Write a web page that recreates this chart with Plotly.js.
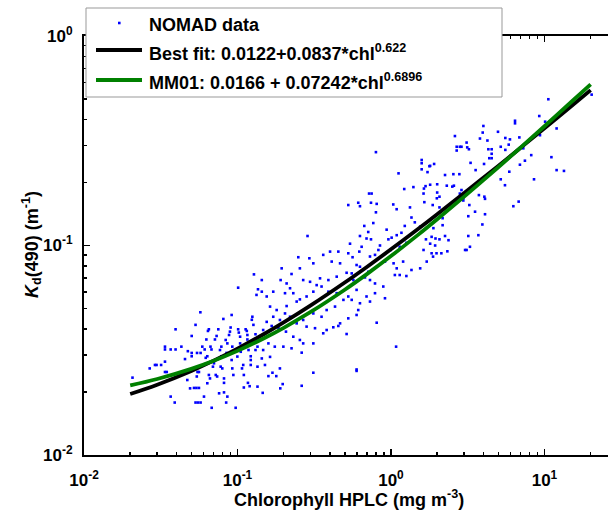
<!DOCTYPE html>
<html><head><meta charset="utf-8">
<script src="https://cdn.plot.ly/plotly-3.0.1.min.js"></script>
<style>html,body{margin:0;padding:0;background:#fff}#chart{width:608px;height:513px}</style>
</head><body><div id="chart"></div>
<script>
// NOMAD data (chlorophyll HPLC, Kd490)
const chl = [
0.0207,0.0268,0.0290,0.0297,0.0318,0.0337,0.0337,0.0337,0.0346,0.0337,0.0367,0.0367,0.0390,0.0395,0.0395,0.0431,0.0455,0.0471,0.0475,0.0491,
0.0503,0.0503,0.0503,0.0521,0.0540,0.0561,0.0533,0.0533,0.0553,0.0575,0.0545,0.0575,0.0549,0.0561,0.0543,0.0573,0.0590,0.0611,0.0627,0.0605,
0.0621,0.0636,0.0642,0.0651,0.0636,0.0651,0.0662,0.0667,0.0677,0.0679,0.0692,0.0703,0.0713,0.0731,0.0722,0.0737,0.0750,0.0759,0.0769,0.0785,
0.0785,0.0777,0.0796,0.0809,0.0817,0.0817,0.0817,0.0838,0.0859,0.0849,0.0844,0.0859,0.0881,0.0902,0.0893,0.0916,0.0925,0.0916,0.0925,0.0940,
0.0973,0.0973,0.0998,0.101,0.101,0.102,0.104,0.104,0.106,0.105,0.107,0.109,0.110,0.110,0.113,0.115,0.116,0.116,0.117,0.118,
0.117,0.120,0.122,0.122,0.122,0.124,0.125,0.127,0.128,0.131,0.133,0.135,0.133,0.136,0.131,0.135,0.135,
0.527,0.612,0.628,0.741,0.807,0.798,1.035,1.089,1.33,1.65,
0.798,1.585,1.585,1.585,1.78,1.73,1.12,1.22,1.40,1.64,1.68,1.63,0.720,0.748,
0.286,0.670,0.711,0.767,0.693,0.741,0.628,0.644,0.622,0.541,0.527,0.562,0.937,0.962,1.01,1.09,1.17,1.23,1.36,1.43,
1.26,1.14,0.996,0.848,0.828,0.787,0.730,1.04,1.09,1.06,1.20,1.36,1.55,1.71,1.63,1.69,1.55,1.26,0.914,0.787,
0.677,0.711,0.628,0.693,0.597,0.569,0.555,0.612,0.514,0.527,0.597,0.807,0.914,0.730,0.787,0.891,1.08,0.514,0.597,0.381,
0.421,0.466,0.454,
0.249,0.294,0.312,0.362,0.401,0.454,0.411,0.466,0.443,0.391,0.345,0.328,0.297,0.268,0.255,0.225,0.194,0.191,0.209,0.220,
0.231,0.204,0.171,0.155,0.144,0.144,0.163,0.180,0.209,0.243,0.255,0.282,0.312,0.353,0.391,0.443,0.490,0.432,0.381,0.353,
0.312,0.268,0.243,0.220,0.204,0.189,0.171,0.155,0.147,0.167,0.185,0.207,0.231,0.255,0.282,0.320,0.362,0.268,0.312,0.225,
0.199,0.175,0.159,0.147,0.163,0.144,0.151,0.189,0.262,1.14,0.730,0.597,0.555,0.527,0.628,
10.6,9.25,10.1,12.0,9.35,20.3,6.43,6.43,6.86,7.28,8.20,7.46,6.92,11.1,12.0,13.4,8.55,6.79,6.27,4.98,
5.56,5.96,5.19,5.56,5.85,4.00,3.96,3.80,4.25,4.31,4.53,4.53,4.37,4.53,4.04,5.90,5.19,5.53,2.61,3.11,
3.14,3.22,2.68,2.68,2.81,2.88,3.30,3.56,1.91,1.80,2.25,2.55,2.79,2.00,2.31,2.51,2.57,1.80,2.00,1.99,
2.07,2.88,2.96,2.96,2.81,3.74,4.06,4.10,3.24,3.53,3.19,4.10,3.94,1.87,2.07,2.17,2.17,1.89,2.25,2.37,
2.07,1.95,1.84,3.19,3.71,3.27,3.04,3.11,1.80,1.94,1.84,1.98,2.13,2.33,1.88,
0.169,0.159,0.179,0.197,0.190,0.146,0.262,0.312,0.597
];
const kd = [
0.0234,0.0259,0.0269,0.0269,0.0269,0.0329,0.0319,0.0249,0.0249,0.0279,0.0319,0.0190,0.0178,0.0398,0.0319,0.0329,0.0287,0.0228,0.0313,0.0208,
0.0370,0.0307,0.0296,0.0209,0.0209,0.0209,0.0418,0.0178,0.0178,0.0178,0.0307,0.0307,0.0249,0.0249,0.0237,0.0480,0.0329,0.0319,0.0356,0.0190,
0.0291,0.0296,0.0391,0.0398,0.0220,0.0241,0.0232,0.0329,0.0319,0.0168,0.0264,0.0274,0.0356,0.0370,0.0241,0.0237,0.0398,0.0197,0.0317,0.0329,
0.0296,0.0264,0.0259,0.0446,0.0232,0.0221,0.0199,0.0354,0.0341,0.0307,0.0178,0.0190,0.0374,0.0406,0.0388,0.0466,0.0329,0.0284,0.0259,0.0241,
0.0168,0.0317,0.0295,0.0629,0.0398,0.0384,0.0367,0.0341,0.0323,0.0311,0.0259,0.0269,0.0241,0.0210,0.0398,0.0391,0.0374,0.0356,0.0341,0.0317,
0.0221,0.0213,0.0284,0.0296,0.0269,0.0442,0.0457,0.0418,0.0728,0.0377,0.0354,0.0329,0.0581,0.0618,0.0317,0.0212,0.0264,
0.156,0.160,0.154,0.160,0.158,0.144,0.157,0.149,0.152,0.161,
0.279,0.256,0.247,0.231,0.239,0.224,0.221,0.186,0.190,0.187,0.192,0.177,0.177,0.177,
0.111,0.124,0.116,0.128,0.108,0.107,0.111,0.0986,0.0935,0.102,0.0918,0.0879,0.119,0.107,0.109,0.112,0.115,0.124,0.136,0.129,
0.103,0.0986,0.0952,0.100,0.0952,0.0902,0.0886,0.0822,0.0778,0.0723,0.0838,0.0764,0.0778,0.0838,0.0952,0.107,0.123,0.0715,0.0838,0.0659,
0.0704,0.0749,0.0792,0.0571,0.0614,0.0684,0.0550,0.0492,0.0741,0.0449,0.0466,0.0428,0.0560,0.0540,0.0592,0.0637,0.0329,0.0378,0.0256,0.0395,
0.0407,0.0425,0.0413,
0.0879,0.0869,0.0822,0.0902,0.0935,0.0935,0.0838,0.0822,0.0710,0.0684,0.0697,0.0647,0.0671,0.0684,0.0778,0.0731,0.0778,0.0684,0.0659,0.0625,
0.0592,0.0592,0.0602,0.0571,0.0602,0.0684,0.0511,0.0492,0.0514,0.0540,0.0553,0.0571,0.0602,0.0637,0.0602,0.0592,0.0550,0.0511,0.0492,0.0457,
0.0474,0.0441,0.0425,0.0457,0.0474,0.0441,0.0457,0.0432,0.0395,0.0413,0.0403,0.0388,0.0367,0.0354,0.0410,0.0403,0.0381,0.0341,0.0341,0.0323,
0.0329,0.0329,0.0341,0.0317,0.0294,0.0289,0.0269,0.0259,0.0308,0.0723,0.0684,0.0807,0.0736,0.0571,0.0530,
0.499,0.415,0.390,0.362,0.336,0.525,0.394,0.383,0.328,0.291,0.270,0.254,0.243,0.264,0.229,0.227,0.207,0.162,0.154,0.349,
0.326,0.321,0.296,0.286,0.303,0.372,0.346,0.324,0.317,0.288,0.288,0.274,0.261,0.261,0.245,0.225,0.207,0.194,0.333,0.310,
0.294,0.288,0.296,0.284,0.296,0.296,0.248,0.229,0.245,0.240,0.217,0.219,0.219,0.196,0.193,0.191,0.193,0.195,0.179,0.168,
0.171,0.184,0.168,0.164,0.177,0.174,0.171,0.167,0.156,0.145,0.138,0.141,0.126,0.156,0.152,0.135,0.125,0.121,0.111,0.106,
0.107,0.108,0.110,0.111,0.112,0.0986,0.0952,0.0952,0.102,0.100,0.0918,0.0918,0.0918,0.0938,0.0885,
0.0247,0.0238,0.0238,0.0218,0.0208,0.0198,0.0214,0.0247,0.0252
];
// Fitted curves (values evaluated from the legend equations)
const fitChl    = [0.02,0.03,0.05,0.07,0.1,0.15,0.2,0.3,0.5,0.7,1,1.5,2,3,5,7,10,15,20];
const bestFitKd = [0.01955,0.02165,0.02519,0.02821,0.03219,0.03792,0.04296,0.05178,0.06659,0.07924,0.0959,0.11991,0.14101,0.17798,0.23997,0.29299,0.36273,0.46327,0.55166];
const mm01Kd    = [0.02148,0.02305,0.02578,0.02817,0.03140,0.03618,0.04047,0.04817,0.06150,0.07322,0.08902,0.11238,0.13340,0.17108,0.23630,0.29370,0.37097,0.48532,0.58811];

const seriesNames = ['NOMAD data','Best fit: 0.0122+0.0837*chl<sup>0.622</sup>','MM01: 0.0166 + 0.07242*chl<sup>0.6896</sup>'];
const xTickVals = [0.01,0.1,1,10];
const xTickText = ['10<sup>-2</sup>','10<sup>-1</sup>','10<sup>0</sup>','10<sup>1</sup>'];
const yTickVals = [0.01,0.1,1];
const yTickText = ['10<sup>-2</sup>','10<sup>-1</sup>','10<sup>0</sup>'];
const xMinorVals = [0.02,0.03,0.04,0.05,0.06,0.07,0.08,0.09,0.2,0.3,0.4,0.5,0.6,0.7,0.8,0.9,2,3,4,5,6,7,8,9,20];
const yMinorVals = [0.02,0.03,0.04,0.05,0.06,0.07,0.08,0.09,0.2,0.3,0.4,0.5,0.6,0.7,0.8,0.9];
const xTitle = 'Chlorophyll HPLC (mg m<sup>-3</sup>)';
const yTitle = '<i>K</i><sub>d</sub>(490) (m<sup>-1</sup>)';

const FONT = 'Liberation Sans, Arial, Helvetica, sans-serif';
const traces = [
  {x: chl, y: kd, type: 'scatter', mode: 'markers', name: seriesNames[0],
   marker: {symbol: 'square', size: 2.6, color: '#0000ff', line: {width: 0}}},
  {x: fitChl, y: bestFitKd, type: 'scatter', mode: 'lines', name: seriesNames[1],
   line: {color: '#000000', width: 3.8, shape: 'spline'}},
  {x: fitChl, y: mm01Kd, type: 'scatter', mode: 'lines', name: seriesNames[2],
   line: {color: '#008000', width: 3.8, shape: 'spline'}}
];

// plot area in pixels: left 84, right 608, top 36, bottom 455
const PL = 84, PW = 524, PB = 455, PH = 419;
const px = v => (v - PL) / PW;
const py = v => (PB - v) / PH;

const tickFont = {family: FONT, size: 17, color: '#000', weight: 'bold'};
const layout = {
  width: 608, height: 513,
  margin: {l: 84, r: 0, t: 36, b: 58, pad: 0},
  paper_bgcolor: '#fff', plot_bgcolor: '#fff',
  showlegend: false,
  xaxis: {type: 'log', range: [-2, 1.414], tickmode: 'array', tickvals: xTickVals, ticktext: xTickText,
    ticks: 'inside', ticklen: 6, tickwidth: 1.5, tickcolor: '#000',
    minor: {tickmode: 'array', tickvals: xMinorVals, ticks: 'inside', ticklen: 3, tickwidth: 1.5, tickcolor: '#000', showgrid: false},
    showline: true, linecolor: '#000', linewidth: 2, mirror: 'ticks', showgrid: false, zeroline: false,
    tickfont: tickFont, ticklabelstandoff: 9},
  yaxis: {type: 'log', range: [-2, 0], tickmode: 'array', tickvals: yTickVals, ticktext: yTickText,
    ticks: 'inside', ticklen: 6, tickwidth: 1.5, tickcolor: '#000',
    minor: {tickmode: 'array', tickvals: yMinorVals, ticks: 'inside', ticklen: 3, tickwidth: 1.5, tickcolor: '#000', showgrid: false},
    showline: true, linecolor: '#000', linewidth: 2, mirror: false, showgrid: false, zeroline: false,
    tickfont: tickFont, ticklabelstandoff: 6},
  shapes: [
    {type: 'rect', xref: 'paper', yref: 'paper', x0: px(86), x1: px(502), y0: py(97), y1: py(8),
     fillcolor: '#fff', line: {color: '#999', width: 1}, layer: 'above'},
    {type: 'rect', xref: 'paper', yref: 'paper', x0: px(118), x1: px(120.6), y0: py(24.3), y1: py(21.7),
     fillcolor: '#0000ff', line: {width: 0}, layer: 'above'},
    {type: 'line', xref: 'paper', yref: 'paper', x0: px(96), x1: px(142), y0: py(50), y1: py(50),
     line: {color: '#000', width: 3.8}, layer: 'above'},
    {type: 'line', xref: 'paper', yref: 'paper', x0: px(96), x1: px(142), y0: py(80), y1: py(80),
     line: {color: '#008000', width: 3.8}, layer: 'above'}
  ],
  annotations: [
    {text: seriesNames[0], xref: 'paper', yref: 'paper', x: px(147), y: py(25), xanchor: 'left', yanchor: 'middle',
     showarrow: false, font: {family: FONT, size: 18, color: '#000', weight: 'bold'}},
    {text: seriesNames[1], xref: 'paper', yref: 'paper', x: px(147), y: py(52), xanchor: 'left', yanchor: 'middle',
     showarrow: false, font: {family: FONT, size: 18, color: '#000', weight: 'bold'}},
    {text: seriesNames[2], xref: 'paper', yref: 'paper', x: px(147), y: py(82), xanchor: 'left', yanchor: 'middle',
     showarrow: false, font: {family: FONT, size: 18, color: '#000', weight: 'bold'}},
    {text: xTitle, xref: 'paper', yref: 'paper', x: px(349), y: py(498), xanchor: 'center', yanchor: 'middle',
     showarrow: false, font: {family: FONT, size: 18, color: '#000', weight: 'bold'}},
    {text: yTitle, xref: 'paper', yref: 'paper', x: px(31), y: py(245), xanchor: 'center', yanchor: 'middle',
     textangle: -90, showarrow: false, font: {family: FONT, size: 18, color: '#000', weight: 'bold'}}
  ]
};
Plotly.newPlot('chart', traces, layout, {displayModeBar: false, staticPlot: true});
</script></body></html>
